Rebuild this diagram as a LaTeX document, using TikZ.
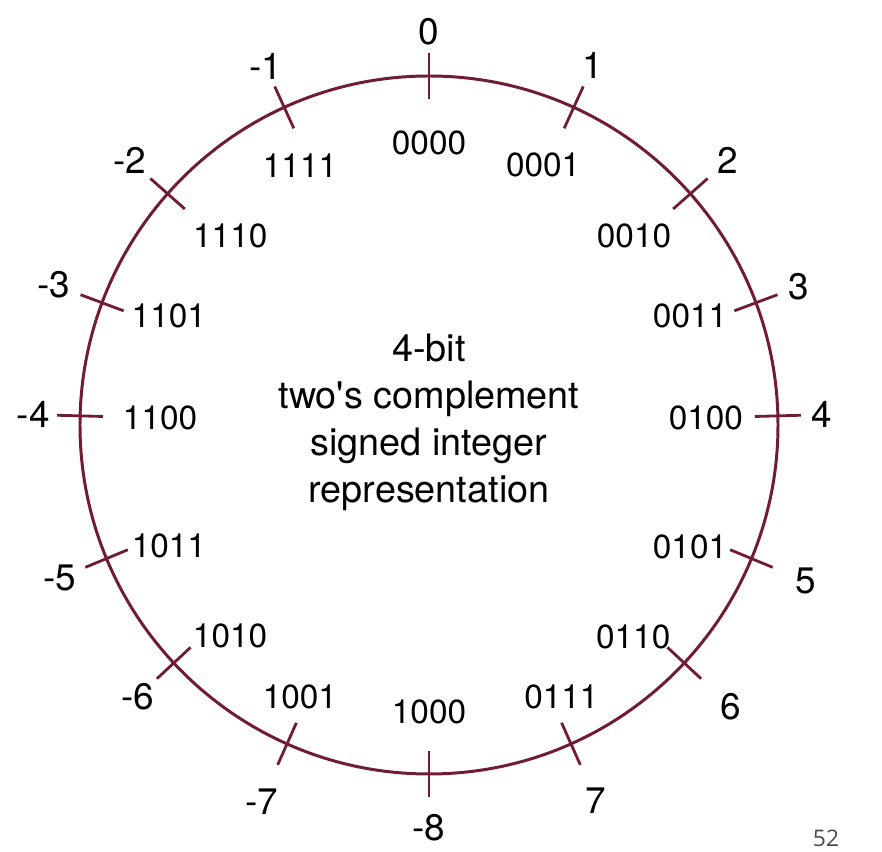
\documentclass[tikz,border=0pt]{standalone}
\usepackage{fontspec}
\setmainfont{TeX Gyre Heros}
\newfontfamily\pagefont{Open Sans}
\usepackage{xcolor}
\usepackage{tikz}
\definecolor{wheelred}{HTML}{701C32}
\definecolor{pagegray}{HTML}{4A4A4A}

\begin{document}
\begin{tikzpicture}[
  ring/.style={draw=wheelred, line width=1.7pt},
  tickmark/.style={draw=wheelred, line width=1.6pt},
  val/.style={font=\fontsize{21}{24}\selectfont, inner sep=0pt},
  bits/.style={font=\fontsize{19}{22}\selectfont, inner sep=0pt},
  title/.style={font=\fontsize{21.5}{26.7}\selectfont, align=center},
]
  \useasboundingbox (-8.58,-8.54) rectangle (9.06,8.50);

  \draw[ring] (0,0) circle (6.98);

  % value / bits / tick angle (clockwise from top) / value radius / bits angle / bits radius
  \foreach \v/\b/\a/\ro/\ai/\ri in {
      0/0000/0/7.86/0/5.64,          1/0001/24.5/7.9/23.7/5.68,
      2/0010/48.5/7.98/47.3/5.58,    3/0011/69.5/7.9/67.3/5.66,
      4/0100/88.5/7.86/88.5/5.54,    5/0101/112.5/8.16/115/5.76,
      6/0110/133/8.26/136/5.88,      7/0111/156/8.22/154/6.04,
      -8/1000/180/8.06/180/5.74,     -7/1001/204/8.24/205.4/6.02,
      -6/1010/227/7.96/223.3/5.8,    -5/1011/247.5/8.0/245/5.74,
      -4/1100/271.5/7.92/271.5/5.38, -3/1101/290.5/8.02/292.7/5.64,
      -2/1110/311.5/8.0/313.5/5.48,  -1/1111/335.5/7.88/333.6/5.8} {
    \draw[tickmark] (90-\a:6.52) -- (90-\a:7.44);
    \node[val] (val\b) at (90-\a:\ro) {\v};
    \node[bits] (bits\b) at (90-\ai:\ri) {\b};
  }

  \node[title] (caption) at (0,0.05) {4-bit\\two\textquotesingle s complement\\signed integer\\representation};

  \node[font=\pagefont\fontsize{13}{15}\selectfont, text=pagegray] (pagenum) at (7.94,-8.26) {52};
\end{tikzpicture}
\end{document}
